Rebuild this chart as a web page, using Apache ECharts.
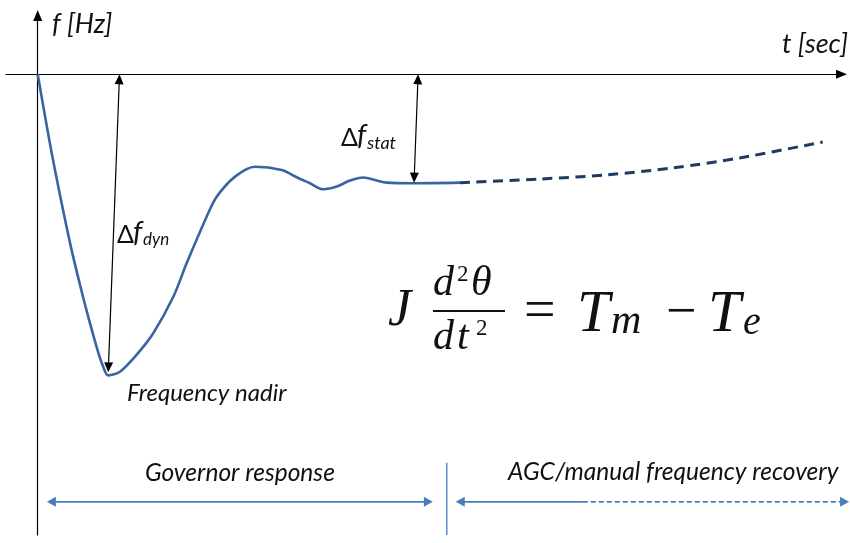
<!DOCTYPE html>
<html>
<head>
<meta charset="utf-8">
<script src="https://cdn.jsdelivr.net/npm/echarts@6/dist/echarts.min.js"></script>
<style>
  html, body { margin: 0; padding: 0; background: #ffffff; }
  #chart { width: 850px; height: 543px; }
</style>
</head>
<body>
<div id="chart"></div>
<script>
// Frequency deviation after a loss of generation (t in s, deviation in Hz).
// Primary (governor) response, drawn solid.
const T_GOVERNOR = [0, 0.75, 1.58, 2.07, 2.41, 2.90, 3.19, 3.45, 4.02, 4.83, 5.65, 6.63, 7.28, 8.26, 8.75, 9.65, 10.62, 11.93, 12.66, 13.31, 13.96, 14.62, 15.27, 15.92, 16.57, 17.06, 18.36, 20.65];
const F_GOVERNOR = [0, -0.285, -0.560, -0.700, -0.790, -0.910, -0.969, -1.000, -0.988, -0.932, -0.860, -0.739, -0.628, -0.473, -0.407, -0.340, -0.307, -0.318, -0.342, -0.362, -0.382, -0.373, -0.353, -0.343, -0.353, -0.360, -0.362, -0.360];
// Secondary (AGC / manual) recovery, drawn dashed.
const T_RECOVERY = [20.65, 24.55, 27.82, 31.05, 34.32, 38.38];
const F_RECOVERY = [-0.360, -0.348, -0.334, -0.311, -0.278, -0.225];

// Dimension arrows: [t1, f1, t2, f2]
const DF_DYN = [4.00, 0, 3.45, -0.99];     // zero line down to the nadir
const DF_STAT = [18.60, 0, 18.40, -0.36];  // zero line down to the settled value
const GOVERNOR_SPAN = [0.45, -1.42, 19.32, -1.42];
const RECOVERY_SPAN_SOLID = [20.44, -1.42, 26.65, -1.42];
const RECOVERY_SPAN_DASHED = [26.65, -1.42, 39.67, -1.42];
const PHASE_DIVIDER = [20, -1.29, 20, -1.53];

const pairs = (xs, ys) => xs.map((x, i) => [x, ys[i]]);

// Segment with optional filled triangular heads, placed through the grid's scales.
function segmentSeries(name, seg, color, width, dash, heads, headLen, headHalf) {
  return {
    name: name,
    type: 'custom',
    coordinateSystem: 'cartesian2d',
    silent: true,
    clip: false,
    z: 4,
    encode: { x: [0, 2], y: [1, 3] },
    data: [seg],
    renderItem: function (params, api) {
      const a = api.coord([api.value(0), api.value(1)]);
      const b = api.coord([api.value(2), api.value(3)]);
      const dx = b[0] - a[0], dy = b[1] - a[1];
      const len = Math.sqrt(dx * dx + dy * dy);
      const ux = dx / len, uy = dy / len;
      const px = -uy, py = ux;
      const atStart = heads === 'both' || heads === 'start';
      const atEnd = heads === 'both' || heads === 'end';
      const s = atStart ? headLen * 0.8 : 0;
      const e = atEnd ? headLen * 0.8 : 0;
      const children = [{
        type: 'line',
        shape: { x1: a[0] + ux * s, y1: a[1] + uy * s, x2: b[0] - ux * e, y2: b[1] - uy * e },
        style: { stroke: color, lineWidth: width, lineDash: dash || null, fill: null }
      }];
      const head = (tip, dirx, diry) => ({
        type: 'polygon',
        shape: { points: [
          [tip[0], tip[1]],
          [tip[0] - dirx * headLen + px * headHalf, tip[1] - diry * headLen + py * headHalf],
          [tip[0] - dirx * headLen - px * headHalf, tip[1] - diry * headLen - py * headHalf]
        ] },
        style: { fill: color, stroke: null }
      });
      if (atStart) children.push(head(a, -ux, -uy));
      if (atEnd) children.push(head(b, ux, uy));
      return { type: 'group', children: children };
    }
  };
}

const INK = '#111111';
const ARROW_BLUE = '#4a7ebb';
const sans = 'Lato, "Open Sans", sans-serif';
const serif = '"Liberation Serif", "DejaVu Serif", serif';

function txt(text, x, y, font, align) {
  return {
    type: 'text', x: x, y: y, silent: true, z: 10,
    style: {
      text: text, font: font, fill: INK,
      textAlign: align || 'left', align: align || 'left',
      textVerticalAlign: 'middle', verticalAlign: 'middle'
    }
  };
}

const chart = echarts.init(document.getElementById('chart'), null, { renderer: 'canvas' });

const option = {
  backgroundColor: '#ffffff',
  animation: false,
  grid: { left: 6, right: 8.5, top: 15.5, bottom: 8, containLabel: false },
  xAxis: {
    type: 'value', min: -1.55, max: 39.3,
    axisLine: { show: true, onZero: true, symbol: ['none', 'triangle'], symbolSize: [9, 11],
      lineStyle: { color: '#000000', width: 1.2 } },
    axisTick: { show: false }, axisLabel: { show: false }, splitLine: { show: false }
  },
  yAxis: {
    type: 'value', min: -1.53, max: 0.195,
    axisLine: { show: true, onZero: true, symbol: ['none', 'triangle'], symbolSize: [9, 11],
      lineStyle: { color: '#000000', width: 1.2 } },
    axisTick: { show: false }, axisLabel: { show: false }, splitLine: { show: false }
  },
  series: [
    {
      name: 'Governor response', type: 'line', data: pairs(T_GOVERNOR, F_GOVERNOR),
      smooth: 0.3, showSymbol: false, symbol: 'none', z: 3,
      lineStyle: { color: '#3a64a0', width: 2.6 }
    },
    {
      name: 'AGC recovery', type: 'line', data: pairs(T_RECOVERY, F_RECOVERY),
      smooth: 0.3, showSymbol: false, symbol: 'none', z: 3,
      lineStyle: { color: '#1f3a63', width: 3, type: [10, 6.5] }
    },
    segmentSeries('dyn', DF_DYN, '#000000', 1.2, null, 'both', 10, 4.5),
    segmentSeries('stat', DF_STAT, '#000000', 1.2, null, 'both', 10, 4.5),
    segmentSeries('gov span', GOVERNOR_SPAN, ARROW_BLUE, 1.6, null, 'both', 9, 5),
    segmentSeries('rec span', RECOVERY_SPAN_SOLID, ARROW_BLUE, 1.6, null, 'start', 9, 5),
    segmentSeries('rec span dashed', RECOVERY_SPAN_DASHED, ARROW_BLUE, 1.6, [5, 3], 'end', 9, 5),
    segmentSeries('divider', PHASE_DIVIDER, '#5b8cc8', 1.5, null, 'none', 0, 0)
  ],
  graphic: [
    // axis titles
    txt('f [Hz]', 52, 24, 'italic 27px ' + sans),
    txt('t [sec]', 848, 44, 'italic 27px ' + sans, 'right'),
    // nadir and phase labels
    txt('Frequency nadir', 127, 393, 'italic 24px ' + sans),
    txt('Governor response', 145, 473, 'italic 24.5px ' + sans),
    txt('AGC/manual frequency recovery', 508, 472, 'italic 24.5px ' + sans),
    // Δf_dyn
    txt('Δ', 117, 235, '25px ' + sans),
    txt('f', 133, 233, 'italic 29px ' + sans),
    txt('dyn', 143, 240, 'italic 17px ' + sans),
    // Δf_stat
    txt('Δ', 341, 138, '25px ' + sans),
    txt('f', 357, 136, 'italic 29px ' + sans),
    txt('stat', 367, 143, 'italic 18px ' + sans),
    // swing equation: J d²θ/dt² = Tm − Te
    txt('J', 388, 311, 'italic 52px ' + serif),
    txt('d', 433, 284, 'italic 42px ' + serif),
    txt('2', 457, 275, '23px ' + serif),
    txt('θ', 471, 284, 'italic 42px ' + serif),
    { type: 'rect', silent: true, z: 10, shape: { x: 433, y: 310, width: 72, height: 2 }, style: { fill: INK } },
    txt('d', 433, 338, 'italic 42px ' + serif),
    txt('t', 457, 338, 'italic 42px ' + serif),
    txt('2', 476, 329, '23px ' + serif),
    txt('=', 524, 313, '56px ' + serif),
    txt('T', 577, 315, 'italic 59px ' + serif),
    txt('m', 611, 322, 'italic 42px ' + serif),
    txt('−', 666, 314, '54px ' + serif),
    txt('T', 708, 315, 'italic 59px ' + serif),
    txt('e', 743, 323, 'italic 40px ' + serif)
  ]
};

chart.setOption(option);
</script>
</body>
</html>
